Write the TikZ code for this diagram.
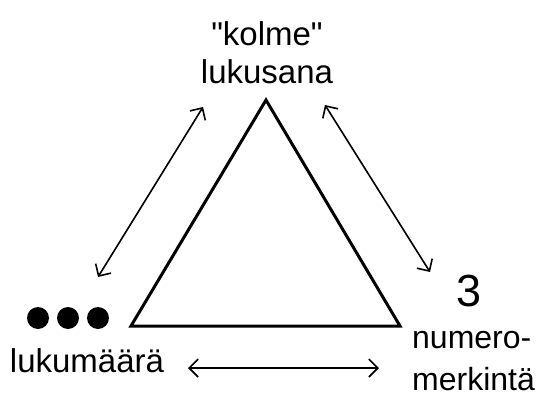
\documentclass[tikz,border=0pt]{standalone}
\usepackage{fontspec}
\setmainfont{Liberation Sans}[Ligatures=TeXOff]
\usetikzlibrary{arrows.meta}
\begin{document}
\begin{tikzpicture}[x=1pt,y=-1pt,
  lbl/.style={inner sep=0pt, align=center, anchor=base},
  dbl/.style={line width=1.6pt, {Straight Barb[length=9pt,width=18pt,line width=1.6pt]}-{Straight Barb[length=9pt,width=18pt,line width=1.6pt]}},
  dot/.style={circle, fill=black, minimum size=22pt, inner sep=0pt}]
\useasboundingbox (0,0) rectangle (539,394);
\coordinate (A) at (266,100);
\coordinate (B) at (131,326);
\coordinate (C) at (400,326);
\draw[line width=3pt, line join=miter] (A) -- (B) -- (C) -- cycle;
\node[lbl, font=\fontsize{33}{38}\selectfont] (top) at (267,83) {"kolme"\\lukusana};
\node[dot] (d1) at (38,318) {};
\node[dot] (d2) at (68,318) {};
\node[dot] (d3) at (98,318) {};
\node[lbl, font=\fontsize{33}{38}\selectfont] (lq) at (87,372) {lukumäärä};
\node[lbl, font=\fontsize{45}{50}\selectfont] (three) at (469,306) {3};
\node[lbl, align=left, anchor=base west, font=\fontsize{32}{42}\selectfont] (num) at (412,390) {numero-\\merkintä};
\coordinate (l1) at (98,277);
\coordinate (l2) at (203,107);
\coordinate (r1) at (325,105);
\coordinate (r2) at (430,272);
\coordinate (b1) at (188,368);
\coordinate (b2) at (379,368);
\draw[dbl] (l1) -- (l2);
\draw[dbl] (r1) -- (r2);
\draw[dbl] (b1) -- (b2);
\end{tikzpicture}
\end{document}
